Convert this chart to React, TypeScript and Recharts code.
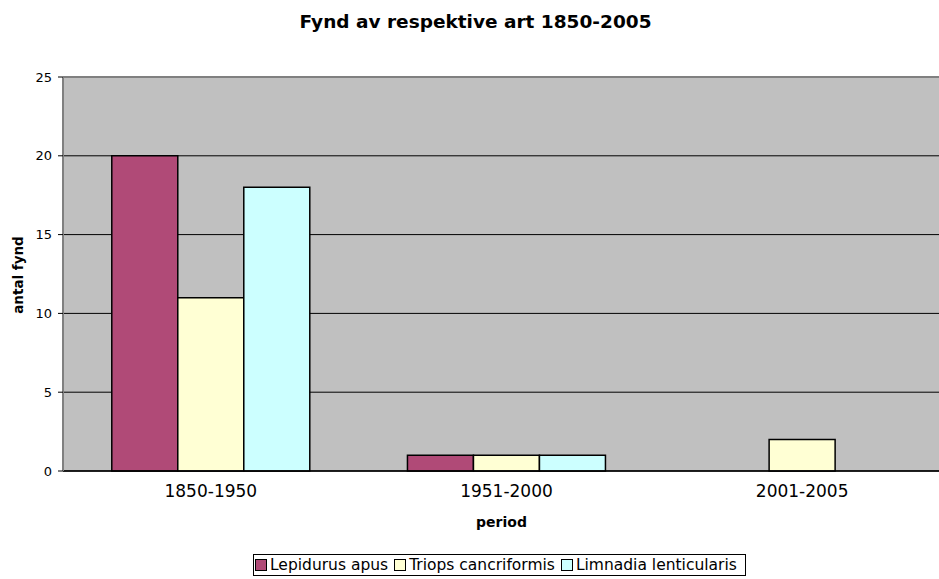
import {
  BarChart,
  Bar,
  XAxis,
  YAxis,
  CartesianGrid,
  ReferenceLine,
} from 'recharts';

const periods = ['1850-1950', '1951-2000', '2001-2005'];
const lepidurus = [20, 1, 0];
const triops = [11, 1, 2];
const limnadia = [18, 1, 0];
const yTicks = [0, 5, 10, 15, 20, 25];

const SERIES = [
  { key: 'lepidurus', name: 'Lepidurus apus', color: '#B04A77' },
  { key: 'triops', name: 'Triops cancriformis', color: '#FFFFD4' },
  { key: 'limnadia', name: 'Limnadia lenticularis', color: '#CCFFFF' },
];

const data = periods.map((p, i) => ({
  period: p,
  lepidurus: lepidurus[i],
  triops: triops[i],
  limnadia: limnadia[i],
}));

const FONT = '"DejaVu Sans", sans-serif';

export default function App() {
  return (
    <div
      style={{
        position: 'absolute',
        left: 0,
        top: 0,
        width: 939,
        height: 579,
        overflow: 'hidden',
        background: '#fff',
        fontFamily: FONT,
      }}
    >
      <div
        style={{
          position: 'absolute',
          top: 11,
          left: 0,
          width: 951,
          textAlign: 'center',
          fontWeight: 'bold',
          fontSize: 18.5,
        }}
      >
        Fynd av respektive art 1850-2005
      </div>
      <div
        style={{
          position: 'absolute',
          left: 18,
          top: 275,
          transform: 'translate(-50%, -50%) rotate(-90deg)',
          fontWeight: 'bold',
          fontSize: 13.5,
          whiteSpace: 'nowrap',
        }}
      >
        antal fynd
      </div>
      <div
        style={{
          position: 'absolute',
          top: 514,
          left: 63,
          width: 877,
          textAlign: 'center',
          fontWeight: 'bold',
          fontSize: 14,
        }}
      >
        period
      </div>
      <BarChart
        width={950}
        height={579}
        data={data}
        margin={{ top: 77, right: 0, left: 0, bottom: 48 }}
        barCategoryGap="16.5%"
        barGap={0}
      >
        <CartesianGrid
          vertical={false}
          stroke="#000"
          fill="#C0C0C0"
          fillOpacity={1}
        />
        <ReferenceLine y={25} stroke="#808080" strokeWidth={2} />
        <XAxis
          dataKey="period"
          height={60}
          tickLine={false}
          axisLine={{ stroke: '#000', strokeWidth: 1.5 }}
          tick={{ fill: '#000', fontSize: 17, fontFamily: FONT }}
          tickMargin={8}
        />
        <YAxis
          width={63}
          domain={[0, 25]}
          ticks={yTicks}
          interval={0}
          axisLine={{ stroke: '#808080', strokeWidth: 2 }}
          tickLine={{ stroke: '#000' }}
          tickSize={5}
          tickMargin={6}
          tick={{ fill: '#000', fontSize: 13, fontFamily: FONT }}
        />
        {SERIES.map((s) => (
          <Bar
            key={s.key}
            dataKey={s.key}
            name={s.name}
            fill={s.color}
            stroke="#000"
            strokeWidth={1.5}
            isAnimationActive={false}
          />
        ))}
      </BarChart>
      <div
        style={{
          position: 'absolute',
          left: 253,
          top: 554,
          width: 493,
          height: 22,
          border: '1px solid #000',
          display: 'flex',
          alignItems: 'center',
          fontSize: 15.5,
          gap: 6,
          paddingLeft: 1,
          boxSizing: 'border-box',
        }}
      >
        {SERIES.map((s) => (
          <span key={s.key} style={{ display: 'flex', alignItems: 'center', gap: 3 }}>
            <span
              style={{
                width: 10,
                height: 10,
                background: s.color,
                border: '1px solid #000',
                display: 'inline-block',
              }}
            />
            {s.name}
          </span>
        ))}
      </div>
    </div>
  );
}
